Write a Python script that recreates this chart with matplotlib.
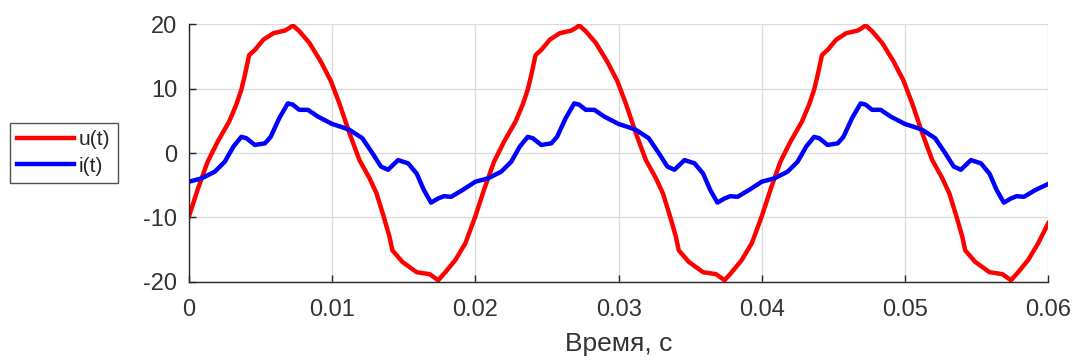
import numpy as np
import matplotlib
matplotlib.use("Agg")
import matplotlib.pyplot as plt

# one period (50 Hz -> 0.02 s)
period = 0.02
n_periods = 3

t_u = [0.0, 0.00063, 0.0013, 0.0020, 0.0028, 0.0033, 0.00365, 0.0039,
       0.0042, 0.0046, 0.0052, 0.0059, 0.0067, 0.0070, 0.00725, 0.0077,
       0.0084, 0.0092, 0.0099, 0.0105, 0.0112, 0.0119, 0.0126, 0.0131,
       0.0136, 0.0140, 0.0142, 0.0149, 0.0159, 0.0168, 0.0174, 0.0179,
       0.0186, 0.0193]
u_vals = [-9.8, -5.5, -1.35, 1.76, 4.87, 7.5, 9.8, 12.1,
          15.2, 16.0, 17.6, 18.6, 19.0, 19.4, 19.8, 18.9,
          17.1, 14.2, 11.2, 7.7, 3.1, -1.1, -3.9, -6.3,
          -9.9, -13.0, -15.1, -16.9, -18.5, -18.8, -19.75, -18.5,
          -16.6, -14.0]

t_i = [0.0, 0.00086, 0.0018, 0.0025, 0.0031, 0.00365, 0.0040, 0.0046,
       0.0053, 0.0057, 0.0063, 0.0069, 0.00725, 0.0077, 0.0083, 0.0090,
       0.0100, 0.0107, 0.0112, 0.0121, 0.0128, 0.0134, 0.0139, 0.0146,
       0.0153, 0.0159, 0.0164, 0.0169, 0.0174, 0.0178, 0.0183, 0.0191]
i_vals = [-4.45, -3.95, -2.9, -1.35, 1.0, 2.5, 2.3, 1.25,
          1.5, 2.5, 5.4, 7.7, 7.5, 6.7, 6.7, 5.65,
          4.5, 4.0, 3.6, 2.3, 0.0, -2.1, -2.6, -1.1,
          -1.6, -3.2, -5.75, -7.7, -7.05, -6.7, -6.8, -5.75]

# last sample at the right edge of the plot
t_end, u_end, i_end = 0.06, -10.9, -4.8

xticks = [0, 0.01, 0.02, 0.03, 0.04, 0.05, 0.06]
xticklabels = ["0", "0.01", "0.02", "0.03", "0.04", "0.05", "0.06"]
yticks = [-20, -10, 0, 10, 20]
yticklabels = ["-20", "-10", "0", "10", "20"]


def repeat(ts, vs, t_last, v_last):
    tt = np.concatenate([np.asarray(ts) + k * period for k in range(n_periods)] + [[t_last]])
    vv = np.concatenate([np.asarray(vs)] * n_periods + [[v_last]])
    return tt, vv


tu, u = repeat(t_u, u_vals, t_end, u_end)
ti, cur = repeat(t_i, i_vals, t_end, i_end)

plt.rcParams["font.family"] = ["Liberation Sans", "DejaVu Sans"]
plt.rcParams["axes.unicode_minus"] = False
dark = "#262626"
txt = "#333333"

fig = plt.figure(figsize=(10.74, 3.6), dpi=100)
ax = fig.add_axes([0.176, 0.217, 0.800, 0.716])

ax.plot(tu, u, color="#ff0000", lw=3.2, label="u(t)", solid_joinstyle="round")
ax.plot(ti, cur, color="#0000ff", lw=3.2, label="i(t)", solid_joinstyle="round")

ax.set_xlim(0, 0.06)
ax.set_ylim(-20, 20)
ax.set_xticks(xticks)
ax.set_xticklabels(xticklabels)
ax.set_yticks(yticks)
ax.set_yticklabels(yticklabels)
ax.grid(True, color="#dcdcdc", lw=1.0)
ax.set_axisbelow(True)
for s in ("top", "right"):
    ax.spines[s].set_visible(False)
for s in ("left", "bottom"):
    ax.spines[s].set_color(dark)
    ax.spines[s].set_linewidth(1.0)
ax.tick_params(direction="in", length=5, width=1.0, colors=dark,
               labelsize=17, labelcolor=txt)
ax.tick_params(axis="x", pad=12.5)
ax.tick_params(axis="y", pad=8.5)
ax.set_xlabel("Время, с", fontsize=19, color=txt, labelpad=8)

leg = fig.legend(loc="center", bbox_to_anchor=(0.0594, 0.575), fontsize=15,
                 frameon=True, fancybox=False, edgecolor=dark,
                 handlelength=2.7, handletextpad=0.25, borderpad=0.35,
                 labelspacing=0.35, borderaxespad=0)
leg.get_frame().set_linewidth(1.0)
for t in leg.get_texts():
    t.set_color(dark)

fig.savefig("out.png", dpi=100, facecolor="white")
